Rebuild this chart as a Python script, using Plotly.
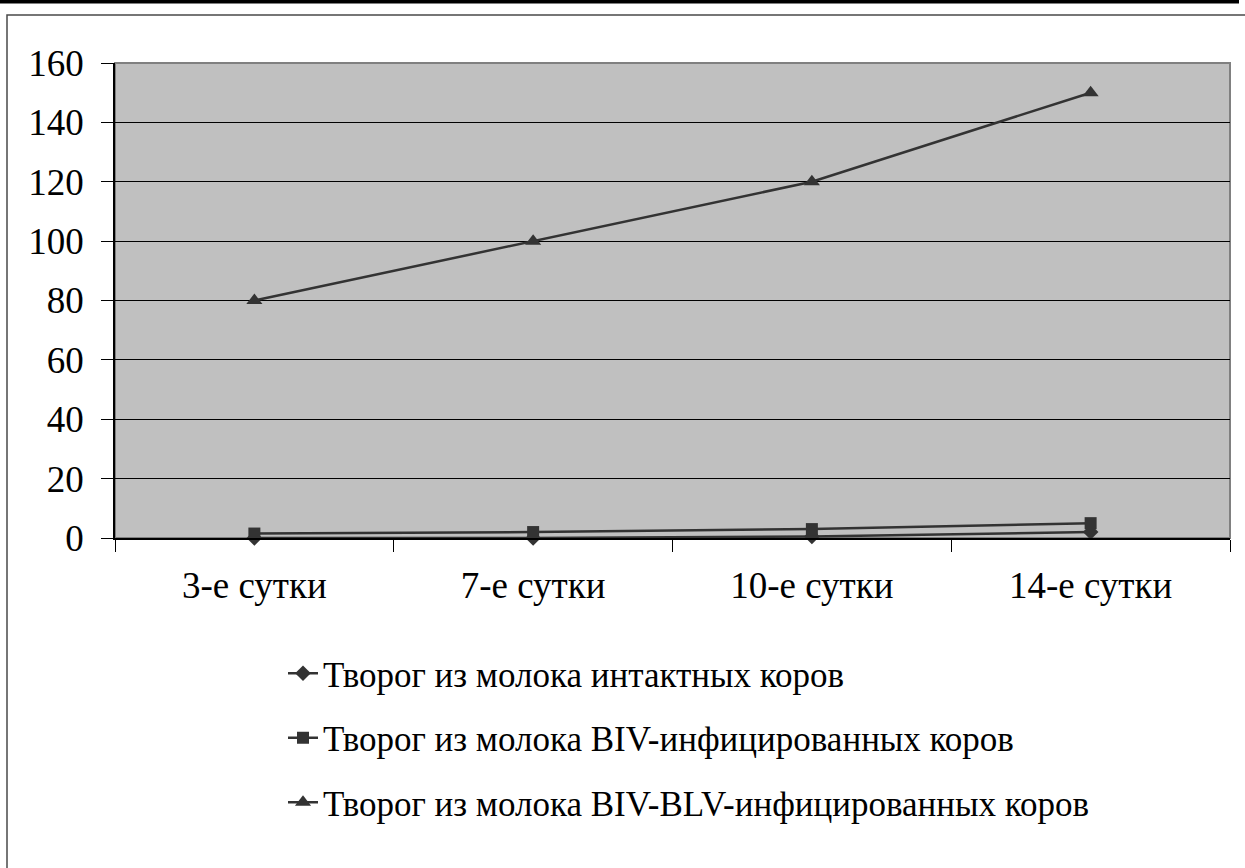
import plotly.graph_objects as go

categories = ["3-е сутки", "7-е сутки", "10-е сутки", "14-е сутки"]
series_names = [
    "Творог из молока интактных коров",
    "Творог из молока BIV-инфицированных коров",
    "Творог из молока BIV-BLV-инфицированных коров",
]
intact = [0, 0, 0.5, 2]
biv = [1.5, 2, 3, 5]
biv_blv = [80, 100, 120, 150]
y_ticks = [0, 20, 40, 60, 80, 100, 120, 140, 160]

W, H = 1245, 868
L, R, T, B = 115, 15, 63, 330
pw = W - L - R
ph = H - T - B

def fx(px):
    return (px - L) / pw

def fy(py):
    return 1 - (py - T) / ph

line_col = "#333333"
fig = go.Figure()
symbols = ["diamond", "square", "triangle-up"]
sizes = [12, 12, 14]
for i, (name, vals) in enumerate(zip(series_names, [intact, biv, biv_blv])):
    fig.add_trace(go.Scatter(
        x=categories, y=vals, name=name, mode="lines+markers",
        legendgroup=f"g{i}",
        line=dict(color=line_col, width=2.5),
        marker=dict(symbol=symbols[i], size=sizes[i], color=line_col),
        cliponaxis=False,
    ))

font_family = "Liberation Serif, Times New Roman, serif"
fig.update_layout(
    width=W, height=H,
    margin=dict(l=L, r=R, t=T, b=B, autoexpand=False),
    paper_bgcolor="white",
    plot_bgcolor="#c0c0c0",
    font=dict(family=font_family, color="black"),
    showlegend=True,
    legend=dict(
        x=fx(283), y=fy(644), xanchor="left", yanchor="top",
        font=dict(size=35, family=font_family, color="black"),
        tracegroupgap=16, bgcolor="rgba(0,0,0,0)",
        itemwidth=30,
    ),
    xaxis=dict(
        type="category", tickson="boundaries",
        showline=True, linecolor="black", linewidth=1.5,
        ticks="outside", ticklen=12, tickcolor="black", tickwidth=1,
        ticklabelstandoff=14,
        showgrid=False, zeroline=False,
        tickfont=dict(size=37, family=font_family, color="black"),
        range=[-0.5, 3.5],
    ),
    yaxis=dict(
        range=[0, 160], tickvals=y_ticks,
        showline=True, linecolor="black", linewidth=1.5,
        ticks="outside", ticklen=12, tickcolor="black", tickwidth=1,
        ticklabelstandoff=10,
        showgrid=True, gridcolor="black", gridwidth=1,
        zeroline=False,
        tickfont=dict(size=37, family=font_family, color="black"),
    ),
    shapes=[
        dict(type="rect", xref="paper", yref="paper", x0=0, x1=1, y0=0, y1=1,
             line=dict(color="#808080", width=2), layer="below"),
        dict(type="rect", xref="paper", yref="paper", x0=fx(7), x1=fx(1260),
             y0=fy(15), y1=fy(900), line=dict(color="#4a4a4a", width=1.5),
             fillcolor="rgba(0,0,0,0)", layer="above"),
        dict(type="rect", xref="paper", yref="paper", x0=fx(0), x1=fx(1239),
             y0=fy(0), y1=fy(3.5), line=dict(width=0),
             fillcolor="black", layer="above"),
    ],
)

fig.write_html(
    "out.html",
    config={"displayModeBar": False},
    post_script="document.body.style.margin='0px';document.body.style.overflow='hidden';",
)
